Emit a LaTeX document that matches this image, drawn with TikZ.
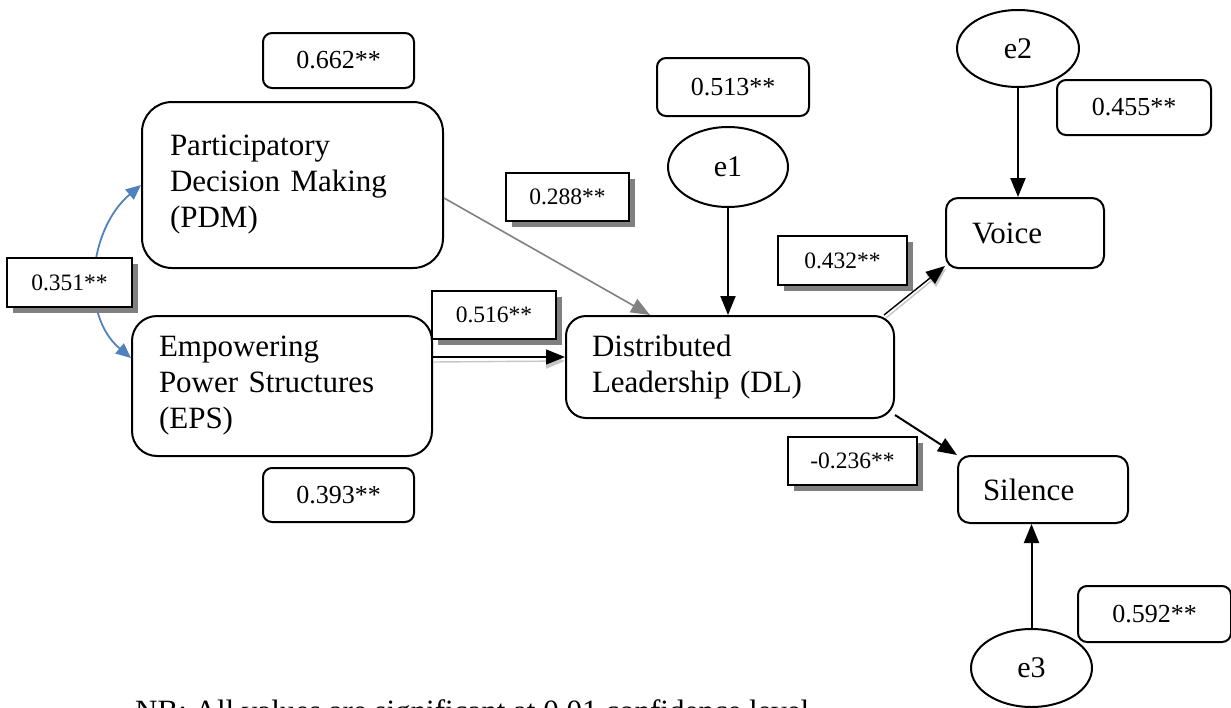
\documentclass[tikz,border=0pt]{standalone}
\usepackage{fontspec}
\setmainfont{Liberation Serif}
\usepackage{tikz}
\usetikzlibrary{arrows.meta, positioning, shapes.geometric, shadows}
\definecolor{corrblue}{RGB}{79,129,189}
\tikzset{
>={Triangle[length=19pt,width=15pt]}, % solid triangular heads
x=1pt, y=-1pt, % one unit per pixel of the layout, y grows downwards
construct/.style={draw, line width=2pt, align=left, inner ysep=0pt, font=\fontsize{31}{36}\selectfont}, % the five variables
errorterm/.style={draw, ellipse, line width=2pt, inner sep=0pt, font=\fontsize{30}{36}\selectfont}, % e1, e2, e3
estimate/.style={draw, fill=white, rounded corners=9pt, line width=2pt, inner sep=0pt, font=\fontsize{26}{30}\selectfont}, % R^2 boxes
coef/.style={draw, fill=white, line width=2pt, inner sep=0pt, font=\fontsize{23.5}{28}\selectfont,
  drop shadow={shadow xshift=6pt, shadow yshift=-6pt, fill=gray, opacity=1}}, % path coefficients
}

\begin{document}
\begin{tikzpicture}
  \useasboundingbox (0,0) rectangle (1231,707);

  % variables
  \node[construct, rounded corners=30pt, minimum height=166pt, text width=245pt, inner xsep=28pt] (PDM) at (292.5,185) {Participatory\\Decision Making\\(PDM)};
  \node[construct, rounded corners=25pt, minimum height=140pt, text width=246pt, inner xsep=27pt] (EPS) at (282,386) {Empowering\\Power Structures\\(EPS)};
  \node[construct, rounded corners=20pt, minimum height=102pt, text width=276pt, inner xsep=26pt] (DL) at (730,367) {Distributed\\Leadership (DL)};
  \node[construct, rounded corners=12pt, minimum height=70pt, text width=106pt, inner xsep=26pt] (Voice) at (1025,233) {Voice};
  \node[construct, rounded corners=12pt, minimum height=67pt, text width=120pt, inner xsep=25pt] (Silence) at (1043,489.5) {Silence};

  \node[errorterm, minimum width=120pt, minimum height=80pt] (e1) at (728,167) {e1};
  \node[errorterm, minimum width=122pt, minimum height=77pt] (e2) at (1018,48.5) {e2};
  \node[errorterm, minimum width=121pt, minimum height=78pt] (e3) at (1031.5,668) {e3};

  % paths
  \draw[<->, corrblue, line width=1.8pt, >={Triangle[length=15pt,width=13pt]}] (PDM.west) to[out=220,in=140] ([yshift=28pt]EPS.west);
  \draw[->, gray, line width=1.6pt] ([yshift=-13pt]PDM.east) -- ([xshift=-80pt]DL.north);
  \draw[->, gray!45, line width=1.4pt] ([yshift=24pt]EPS.east) -- ([yshift=6pt]DL.west);
  \draw[->, line width=1.4pt] ([yshift=29pt]EPS.east) -- ([yshift=10pt]DL.west);
  \draw[->, gray!45, line width=1.4pt] ([xshift=-9pt,yshift=-3pt]DL.north east) -- ([xshift=1pt]Voice.south west);
  \draw[->, line width=1.4pt] ([xshift=-11pt]DL.north east) -- ([yshift=3pt]Voice.south west);
  \path[->, line width=2pt]
  (e1) edge (e1 |- DL.north)
  (e2) edge (e2 |- Voice.north)
  (e3) edge (e3 |- Silence.south)
  ([yshift=4pt]DL.south east) edge (Silence.north west);

  % estimates
  \node[estimate, minimum width=151pt, minimum height=55pt] (r662) at (338.5,60.5) {0.662**};
  \node[estimate, minimum width=152pt, minimum height=58pt] (r513) at (733,87) {0.513**};
  \node[estimate, minimum width=154pt, minimum height=55pt] (r455) at (1134,107.5) {0.455**};
  \node[estimate, minimum width=151pt, minimum height=54pt] (r393) at (338.5,495) {0.393**};
  \node[estimate, minimum width=153pt, minimum height=56pt] (r592) at (1154.5,614) {0.592**};

  \node[coef, minimum width=125pt, minimum height=49pt] (c351) at (69.5,282.5) {0.351**};
  \node[coef, minimum width=123pt, minimum height=48pt] (c288) at (567.5,197) {0.288**};
  \node[coef, minimum width=124pt, minimum height=48pt] (c516) at (494,315) {0.516**};
  \node[coef, minimum width=129pt, minimum height=49pt] (c432) at (842.5,260.5) {0.432**};
  \node[coef, minimum width=129pt, minimum height=48pt] (c236) at (852.5,461) {-0.236**};

  \node[anchor=base west, inner sep=0pt, font=\fontsize{31}{36}\selectfont] (note) at (135,721) {NB: All values are significant at 0.01 confidence level};
\end{tikzpicture}
\end{document}
